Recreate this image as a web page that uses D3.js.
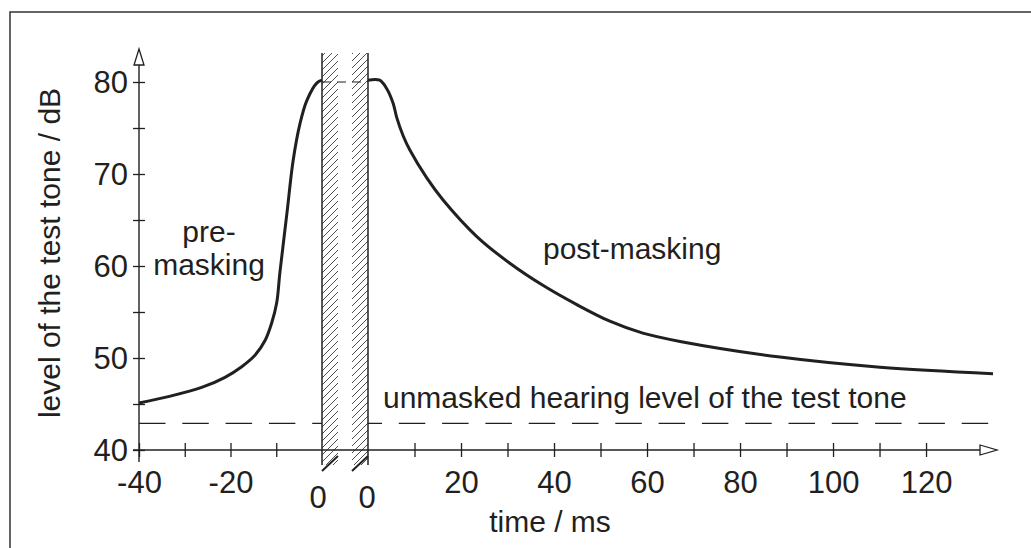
<!DOCTYPE html>
<html>
<head>
<meta charset="utf-8">
<script src="https://cdn.jsdelivr.net/npm/d3@7"></script>
<style>
  body { margin: 0; background: #fff; }
  svg text { font-family: "Liberation Sans", Arial, sans-serif; fill: #231f20; }
</style>
</head>
<body>
<svg id="chart" width="1031" height="548"></svg>
<script>
// pre-masking (time before masker onset, ms) and level (dB)
var preTime  = [-40, -33.6, -26.3, -21.2, -17.55, -14.65, -12.45, -11.0, -9.9, -9.2, -7.65, -6.3, -4.8, -3.3, -1.1, 0];
var preLevel = [45.1, 45.8, 46.8, 47.9, 49.05, 50.3, 51.9, 53.8, 56.0, 59.3, 65.8, 71.5, 75.5, 78.0, 79.9, 80.2];

// post-masking (time after masker end, ms) and level (dB)
var postTime  = [0, 2.5, 4.0, 5.4, 6.2, 7.6, 9.0, 12.6, 16.1, 23.4, 30.5, 37.6, 44.9, 52.0, 59.1, 67.1, 88.6, 110.1, 134.4];
var postLevel = [80.2, 80.2, 79.3, 77.7, 76.1, 74.1, 72.6, 69.6, 67.2, 63.2, 60.3, 57.9, 55.8, 54.0, 52.7, 51.8, 50.1, 49.0, 48.3];

var unmaskedLevel = 42.9;
var maskerLevel = 80;

var preTicks = [-40, -30, -20, -10];
var preLabels = [-40, -20];
var postTicks = [10, 20, 30, 40, 50, 60, 70, 80, 90, 100, 110, 120];
var postLabels = [20, 40, 60, 80, 100, 120];
var levelTicks = [40, 45, 50, 55, 60, 65, 70, 75, 80];
var levelLabels = [40, 50, 60, 70, 80];

var ink = "#231f20";
var svg = d3.select("#chart");

var xPre = d3.scaleLinear().domain([-40, 0]).range([139, 322]);
var xPost = d3.scaleLinear().domain([0, 134.4]).range([368, 993]);
var y = d3.scaleLinear().domain([40, 80]).range([450, 82]);

// frame
svg.append("path")
    .attr("d", "M10,548V12H1031")
    .attr("fill", "none")
    .attr("stroke", "#333")
    .attr("stroke-width", 1.5);

// hatch pattern
var pat = svg.append("defs").append("pattern")
    .attr("id", "hatch")
    .attr("patternUnits", "userSpaceOnUse")
    .attr("width", 7).attr("height", 7);
pat.append("path")
    .attr("d", "M-1,1L1,-1M0,7L7,0M6,8L8,6")
    .attr("stroke", ink)
    .attr("stroke-width", 0.8);

// unmasked hearing threshold
svg.append("line")
    .attr("x1", xPre(-40)).attr("x2", 989)
    .attr("y1", y(unmaskedLevel)).attr("y2", y(unmaskedLevel))
    .attr("stroke", ink)
    .attr("stroke-width", 1.3)
    .attr("stroke-dasharray", "26.5,16.8");

// masker band
var stripW = 16, bandTop = 53, bandBottom = 465;
svg.append("rect")
    .attr("x", xPre(0)).attr("y", bandTop)
    .attr("width", xPost(0) - xPre(0)).attr("height", bandBottom - bandTop)
    .attr("fill", "#fff");

[[xPre(0), xPre(0) + stripW, xPre(0)], [xPost(0) - stripW, xPost(0), xPost(0)]].forEach(function (s) {
  svg.append("rect")
      .attr("x", s[0]).attr("y", bandTop)
      .attr("width", s[1] - s[0]).attr("height", bandBottom - bandTop)
      .attr("fill", "url(#hatch)");
  svg.append("line")
      .attr("x1", s[2]).attr("x2", s[2])
      .attr("y1", bandTop).attr("y2", bandBottom)
      .attr("stroke", ink).attr("stroke-width", 1.5);
  svg.append("line")
      .attr("x1", s[0]).attr("y1", bandBottom + 6)
      .attr("x2", s[1]).attr("y2", bandBottom - 9)
      .attr("stroke", ink).attr("stroke-width", 2);
});

// masker level between the strips
svg.append("line")
    .attr("x1", xPre(0)).attr("x2", xPost(0))
    .attr("y1", y(maskerLevel)).attr("y2", y(maskerLevel))
    .attr("stroke", ink)
    .attr("stroke-width", 1.2)
    .attr("stroke-dasharray", "9,6");

// axes lines + arrows
svg.append("line")
    .attr("x1", 133).attr("x2", 980)
    .attr("y1", y(40)).attr("y2", y(40))
    .attr("stroke", ink).attr("stroke-width", 1.4);
svg.append("path")
    .attr("d", "M980,445L997,450L980,455Z")
    .attr("fill", "#fff").attr("stroke", ink).attr("stroke-width", 1.3);
svg.append("line")
    .attr("x1", xPre(-40)).attr("x2", xPre(-40))
    .attr("y1", 462).attr("y2", 65)
    .attr("stroke", ink).attr("stroke-width", 1.4);
svg.append("path")
    .attr("d", "M139,49L134,65L144,65Z")
    .attr("fill", "#fff").attr("stroke", ink).attr("stroke-width", 1.3);

function styleAxis(g, labels, horizontal) {
  g.select(".domain").remove();
  g.selectAll(".tick line")
      .attr("stroke", ink).attr("stroke-width", 1.3);
  if (horizontal) g.selectAll(".tick line").attr("y1", -7).attr("y2", 7);
  else g.selectAll(".tick line").attr("x1", -6).attr("x2", 6);
  g.selectAll(".tick text")
      .attr("fill", ink)
      .style("font-size", "31px")
      .text(function (d) { return labels.indexOf(d) >= 0 ? d : ""; });
  if (horizontal) g.selectAll(".tick text").attr("y", 43).attr("dy", 0);
  else g.selectAll(".tick text").attr("x", -11).attr("dy", "0.35em");
}

svg.append("g")
    .attr("transform", "translate(0," + y(40) + ")")
    .call(d3.axisBottom(xPre).tickValues(preTicks).tickFormat(d3.format("d")))
    .call(function (g) { styleAxis(g, preLabels, true); });
svg.append("g")
    .attr("transform", "translate(0," + y(40) + ")")
    .call(d3.axisBottom(xPost).tickValues(postTicks).tickFormat(d3.format("d")))
    .call(function (g) { styleAxis(g, postLabels, true); });
svg.append("g")
    .attr("transform", "translate(" + xPre(-40) + ",0)")
    .call(d3.axisLeft(y).tickValues(levelTicks).tickFormat(d3.format("d")))
    .call(function (g) { styleAxis(g, levelLabels, false); });

// the two zeros under the masker edges
svg.selectAll(".zero")
    .data([xPre(0) - 4, xPost(0) - 1])
    .enter().append("text")
    .attr("class", "zero")
    .attr("x", function (d) { return d; })
    .attr("y", 508)
    .attr("text-anchor", "middle")
    .style("font-size", "31px")
    .text("0");

// curves
var pre = preTime.map(function (t, i) { return [xPre(t), y(preLevel[i])]; });
var post = postTime.map(function (t, i) { return [xPost(t), y(postLevel[i])]; });
var line = d3.line().curve(d3.curveCatmullRom.alpha(0.5));
[pre, post].forEach(function (pts) {
  svg.append("path")
      .attr("d", line(pts))
      .attr("fill", "none")
      .attr("stroke", ink)
      .attr("stroke-width", 3);
});

// labels
function label(x, yy, txt, anchor) {
  svg.append("text")
      .attr("x", x).attr("y", yy)
      .attr("text-anchor", anchor || "middle")
      .style("font-size", "30px")
      .text(txt);
}
label(209, 242, "pre-");
label(209, 275, "masking");
label(543, 259, "post-masking", "start");
label(383, 408, "unmasked hearing level of the test tone", "start");
label(550, 532, "time / ms");

svg.append("text")
    .attr("transform", "translate(60,253) rotate(-90)")
    .attr("text-anchor", "middle")
    .style("font-size", "30px")
    .text("level of the test tone / dB");
</script>
</body>
</html>
